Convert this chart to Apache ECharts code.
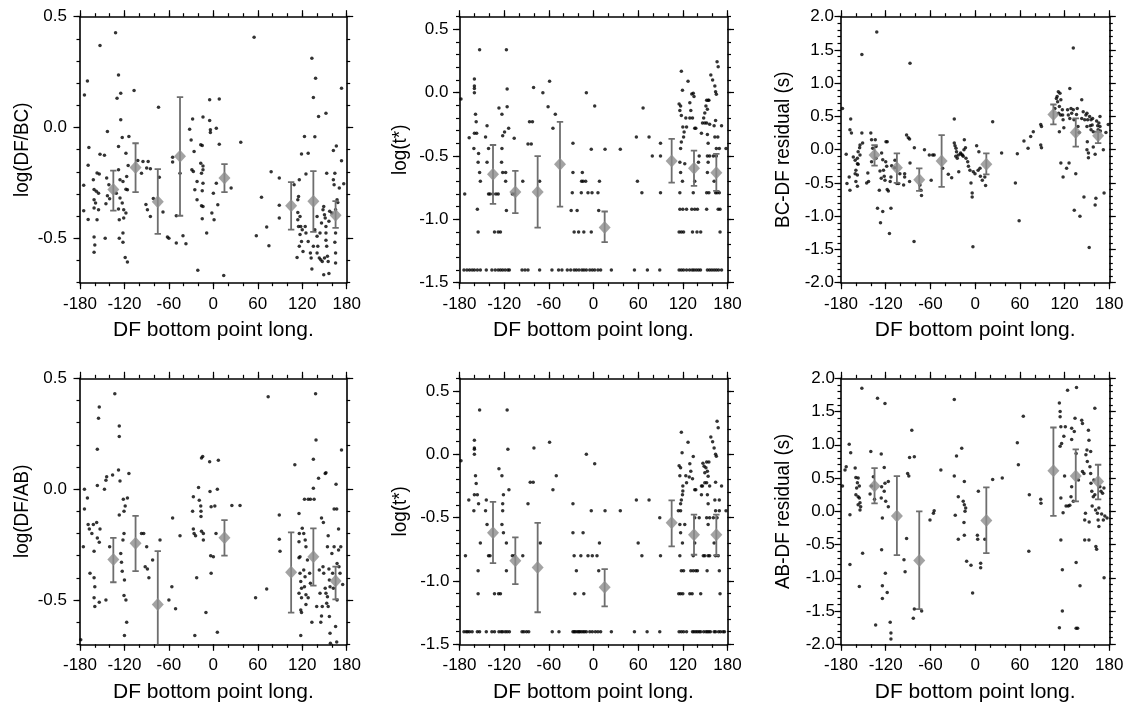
<!DOCTYPE html>
<html><head><meta charset="utf-8">
<script src="https://cdn.jsdelivr.net/npm/echarts@6/dist/echarts.min.js"></script>
<style>html,body{margin:0;padding:0;background:#fff}#c{width:1132px;height:706px}</style>
</head><body><div id="c"></div>
<script>
// ---------- tick labels ----------
const lonMajor = [-180,-120,-60,0,60,120,180];
const lonMinor = [-180,-160,-140,-120,-100,-80,-60,-40,-20,0,20,40,60,80,100,120,140,160,180];
const ratioMajor = [-0.5,0,0.5];
const ratioMinor = [-0.7,-0.6,-0.5,-0.4,-0.3,-0.2,-0.1,0,0.1,0.2,0.3,0.4,0.5];
const tstarMajor = [-1.5,-1,-0.5,0,0.5];
const tstarMinor = [-1.5,-1.4,-1.3,-1.2,-1.1,-1,-0.9,-0.8,-0.7,-0.6,-0.5,-0.4,-0.3,-0.2,-0.1,0,0.1,0.2,0.3,0.4,0.5,0.6];
const residMajor = [-2,-1.5,-1,-0.5,0,0.5,1,1.5,2];
const residMinor = [-2,-1.9,-1.8,-1.7,-1.6,-1.5,-1.4,-1.3,-1.2,-1.1,-1,-0.9,-0.8,-0.7,-0.6,-0.5,-0.4,-0.3,-0.2,-0.1,0,0.1,0.2,0.3,0.4,0.5,0.6,0.7,0.8,0.9,1,1.1,1.2,1.3,1.4,1.5,1.6,1.7,1.8,1.9,2];

const xTitle = 'DF bottom point long.';
const yTitles = ['log(DF/BC)','log(t*)','BC-DF residual (s)','log(DF/AB)','log(t*)','AB-DF residual (s)'];

// ---------- bin centres ----------
const binLonTop = [-135,-105,-75,-45,15,105,135,165];
const binLonBottom = [-135,-105,-75,15,105,135,165];

// ---------- panel 1 : log(DF/BC) ----------
const p1Dots = [[-174,0.147],[-170,0.21],[-168,-0.09],[-169,-0.17],[-175,-0.26],[-175,-0.375],[-169,-0.415],[-153,0.37],[-132,0.428],[-143,-0.018],[-153,-0.12],[-147,-0.125],[-157,-0.205],[-154,-0.21],[-162,-0.235],[-161,-0.28],[-158,-0.288],[-155,-0.296],[-161,-0.326],[-159,-0.34],[-161,-0.363],[-155,-0.371],[-157,-0.416],[-161,-0.494],[-160,-0.53],[-161,-0.563],[-146,-0.5],[-144,-0.228],[-141,-0.258],[-143,-0.308],[-140,-0.321],[-145,-0.344],[-131,-0.296],[-128,0.237],[-130,0.132],[-125,0.155],[-125,0.035],[-123,-0.045],[-128,-0.086],[-126,-0.236],[-122,-0.243],[-128,-0.19],[-126,-0.318],[-123,-0.34],[-128,-0.368],[-121,-0.371],[-127,-0.416],[-121,-0.408],[-118,-0.386],[-127,-0.5],[-122,-0.518],[-119,-0.586],[-116,-0.607],[-122,-0.476],[-118,-0.116],[-115,-0.171],[-114,-0.04],[-118,-0.278],[-117,-0.221],[-116,-0.281],[-107,0.167],[-102,-0.149],[-97,-0.206],[-95,-0.153],[-88,-0.153],[-90,-0.183],[-85,-0.186],[-91,-0.347],[-89,-0.371],[-85,-0.401],[-81,-0.32],[-74,0.092],[-73,-0.224],[-68,-0.381],[-62,-0.494],[-60,-0.5],[-50,-0.521],[-55,-0.156],[-55,-0.134],[-45,-0.206],[-50,-0.398],[-37,-0.524],[-32,-0.008],[-28,0.039],[-30,-0.056],[-29,-0.191],[-27,-0.198],[-26,-0.108],[-22,-0.243],[-25,-0.281],[-22,-0.326],[-21,-0.644],[-17,-0.078],[-15,-0.081],[-17,-0.161],[-14,-0.173],[-16,-0.206],[-14,-0.191],[-14,-0.251],[-15,-0.285],[-16,-0.353],[-14,-0.356],[-15,-0.411],[-9,-0.476],[-41,-0.488],[-14,0.047],[-5,0.125],[-5,0.032],[-4,-0.01],[-4,-0.022],[0,-0.296],[-2,-0.386],[1,-0.416],[4,-0.003],[8,0.129],[8,-0.075],[6,-0.348],[4,-0.251],[14,-0.667],[24,-0.273],[37,-0.066],[55,0.407],[58,-0.488],[65,-0.314],[72,-0.449],[75,-0.533],[78,-0.2],[89,-0.228],[89,-0.351],[89,-0.408],[109,-0.258],[116,-0.236],[115,-0.311],[114,-0.326],[114,-0.383],[114,-0.416],[117,-0.401],[115,-0.446],[119,-0.119],[123,-0.041],[125,-0.21],[128,-0.116],[118,-0.446],[120,-0.461],[117,-0.483],[119,-0.514],[121,-0.559],[113,-0.586],[116,-0.536],[124,-0.446],[125,-0.476],[128,-0.514],[131,-0.566],[133,-0.638],[132,-0.589],[133,0.312],[138,0.222],[135,0.135],[137,-0.042],[142,0.05],[152,0.065],[140,-0.401],[137,-0.461],[140,-0.491],[141,-0.536],[143,-0.589],[140,-0.566],[135,-0.536],[144,-0.476],[146,-0.431],[145,-0.596],[147,-0.604],[150,-0.589],[148,-0.371],[149,-0.356],[150,-0.393],[151,-0.408],[152,-0.446],[152,-0.476],[152,-0.509],[153,-0.536],[154,-0.581],[155,-0.604],[149,-0.664],[156,-0.659],[153,-0.206],[156,-0.423],[157,-0.378],[160,-0.386],[162,-0.236],[163,-0.258],[162,-0.104],[166,-0.083],[164,-0.206],[167,-0.326],[168,-0.338],[165,-0.371],[165,-0.476],[164,-0.518],[165,-0.566],[165,-0.611],[170,-0.273],[173,-0.15],[173,0.177],[176,-0.254]];
const p1Mean = [-0.28,-0.18,-0.335,-0.13,-0.228,-0.353,-0.332,-0.396];
const p1Lo = [-0.375,-0.291,-0.48,-0.398,-0.291,-0.461,-0.471,-0.453];
const p1Hi = [-0.194,-0.071,-0.188,0.137,-0.165,-0.246,-0.197,-0.332];

// ---------- panel 2 : log(t*) (BC) ----------
const p2Dots = [[-174,-1.4],[-170,-1.4],[-166.5,-1.4],[-163,-1.4],[-160,-1.4],[-156,-1.4],[-152,-1.4],[-144,-1.4],[-136.5,-1.4],[-132,-1.4],[-128,-1.4],[-125,-1.4],[-122,-1.4],[-118.6,-1.4],[-115,-1.4],[-113,-1.4],[-96,-1.4],[-92,-1.4],[-88,-1.4],[-72.4,-1.4],[-55.8,-1.4],[-46.9,-1.4],[-42.4,-1.4],[-35.2,-1.4],[-30.7,-1.4],[-26,-1.4],[-23,-1.4],[-19.5,-1.4],[-15.5,-1.4],[-12.8,-1.4],[-9.6,-1.4],[-5,-1.4],[-1.6,-1.4],[1.6,-1.4],[6,-1.4],[9.6,-1.4],[24,-1.4],[55,-1.4],[72.4,-1.4],[89,-1.4],[115,-1.4],[118,-1.4],[121,-1.4],[125,-1.4],[129,-1.4],[132.5,-1.4],[135,-1.4],[138,-1.4],[141,-1.4],[143.7,-1.4],[153,-1.4],[156,-1.4],[159,-1.4],[162,-1.4],[165,-1.4],[168,-1.4],[172,-1.4],
[-178,-0.05],[-173,-0.8],[-167,-0.355],[-160,0.108],[-160,0.053],[-160,0.034],[-160,0.0],[-158.5,-0.17],[-157.6,-0.23],[-160,-0.32],[-157,-0.32],[-160.7,-0.44],[-154.4,-0.48],[-155,-0.55],[-153,-0.63],[-152,-0.7],[-156,-0.92],[-155,-1.1],[-153,0.34],[-143,-0.26],[-145,-0.35],[-141,-0.44],[-143,-0.55],[-141,-0.8],[-139,-0.8],[-135,-0.8],[-131,-0.8],[-128,-0.8],[-133,-1.1],[-128,-1.1],[-125,-1.1],[-127,-0.12],[-123,-0.17],[-122,-0.34],[-123,-0.44],[-123.5,-0.55],[-122,-0.63],[-118,-0.63],[-117,0.34],[-116,-0.11],[-116,0.03],[-119.5,-0.31],[-114,-0.28],[-118,-0.7],[-117,-0.93],[-106.5,-0.36],[-109,-0.8],[-106,-0.8],[-95,-0.7],[-86,-0.23],[-82,-0.23],[-88,-0.405],[-83.6,-0.405],[-80.5,0.042],[-72.4,-0.7],[-68,0.0],[-61,-0.11],[-59,0.09],[-54.5,-0.28],[-51.3,-0.17],[-27.6,-0.4],[-27.6,-0.63],[-28.5,-0.79],[-30,-0.93],[-22,-0.93],[-26,-1.1],[-20,-1.1],[-13,-1.1],[-16,-0.7],[-14,-0.7],[-10.5,-0.7],[-15,-0.63],[-16.4,-0.79],[-9.6,0.0],[-7.4,-0.79],[-2,-0.79],[-3,-1.1],[-3,-0.447],[1.6,-0.105],[6,-0.79],[7,-0.93],[8,-0.7],[15.5,-0.447],[36,-0.447],[57.6,-0.35],[59,-0.7],[65,-0.79],[66.6,-0.12],[74.6,-0.35],[79,-0.5],[90,-0.4],[90,-0.5],[90,-0.79],
[115,-0.09],[116,-0.14],[117,-0.105],[118,0.17],[119.5,0.02],[118,-0.18],[120,-0.27],[121.7,-0.31],[121,-0.35],[118,-0.39],[117,-0.44],[116,-0.55],[117,-0.63],[119.5,-0.7],[116,-0.79],[116,-0.92],[120,-0.92],[125,-0.92],[115,-1.1],[118,-1.1],[121,-1.1],[122.6,-0.56],[124,-0.2],[125,-0.27],[127,0.09],[129.4,-0.08],[130.7,-0.14],[129.4,-0.2],[132,-0.01],[134,-0.005],[135,-0.03],[133,-0.2],[136,-0.28],[137.4,-0.28],[132,-0.92],[136,-0.92],[139.6,-0.92],[133,-1.1],[139,-1.1],[144,-1.1],[134,-0.79],[136,-0.7],[142,-0.5],[141,-0.55],[145,-0.32],[146.4,-0.24],[148,-0.2],[149.5,-0.16],[151,-0.105],[152,-0.06],[153,-0.13],[154,-0.06],[155,-0.06],[149.5,-0.24],[152,-0.24],[153,-0.33],[154,-0.4],[153,-0.5],[156,-0.5],[154,-0.55],[153,-0.63],[152,-0.79],[155,-0.79],[152,-0.92],[156,-0.25],[157.6,0.14],[160,0.1],[163,0.053],[164,0.008],[165,-0.013],[166,0.245],[167.5,0.205],[164,-0.22],[162,-0.26],[163,-0.35],[167,-0.35],[165,-0.44],[169,-0.44],[161,-0.5],[165,-0.5],[162,-0.7],[164,-0.79],[166,-0.79],[169,-0.79],[167.5,-0.92],[170,-0.92],[170,-1.1],[172,-0.26],[178,-0.44]];
const p2Mean = [-0.644,-0.783,-0.783,-0.565,-1.065,-0.539,-0.596,-0.631];
const p2Lo = [-0.878,-0.951,-1.065,-0.899,-1.18,-0.71,-0.736,-0.775];
const p2Hi = [-0.413,-0.617,-0.5,-0.231,-0.938,-0.365,-0.457,-0.483];

// ---------- panel 3 : BC-DF residual ----------
const p3Dots = [[-178,0.62],[-173,-0.07],[-172,-0.51],[-169,-0.41],[-168,-0.61],[-167,0.46],[-168,0.3],[-166,0.25],[-163.5,-0.11],[-161,-0.16],[-160,-0.31],[-161,-0.36],[-160,-0.48],[-158,-0.55],[-158,-0.21],[-157,-0.03],[-155,0.03],[-154.5,0.07],[-154.5,-0.08],[-152,0.25],[-152,1.43],[-151,0.1],[-158,-0.38],[-157,-0.22],[-158,-0.13],[-145.6,-0.5],[-144,-0.35],[-143,-0.48],[-140,0.25],[-139,0.15],[-137.5,0.02],[-139,-0.18],[-134,0.15],[-132,1.77],[-133,0.05],[-133,-0.13],[-131,-0.88],[-128.6,-0.61],[-127,-1.1],[-125.5,-0.05],[-124,-0.15],[-124,-0.93],[-127.7,-0.32],[-126,-0.43],[-123,-0.31],[-122,-0.4],[-121,-0.46],[-119.6,0.12],[-118,0.12],[-120,-0.18],[-118.7,-0.25],[-118,-0.6],[-116.5,-0.62],[-115,-1.26],[-114,-0.48],[-113,-0.41],[-113,-0.88],[-112,-0.24],[-108,-0.27],[-107.6,-0.16],[-105,-0.51],[-102.6,-0.51],[-101,-0.36],[-96,-0.53],[-94.6,-0.36],[-94.6,-0.41],[-92,0.22],[-89.7,0.18],[-88,0.16],[-87.4,1.3],[-88,-0.48],[-87.4,-0.2],[-82,-1.38],[-81.6,0.03],[-74,-0.53],[-72.7,-0.61],[-72,-0.69],[-68,0.0],[-61.5,-0.08],[-59,-0.46],[-57,-0.08],[-55,-0.08],[-43.6,-0.28],[-36,-0.37],[-31.5,-0.42],[-28,0.46],[-28,0.1],[-27,0.06],[-25.7,0.02],[-25,-0.03],[-26,-0.1],[-24,-0.13],[-22.6,-0.08],[-22,-0.33],[-19.5,-0.05],[-19,-0.07],[-17,-0.08],[-16,-0.1],[-15,0.0],[-14.5,0.15],[-13,0.03],[-12.3,-0.13],[-10,-0.18],[-9,-0.25],[-7,-0.31],[-5.6,-0.5],[-4,-0.65],[-4,-0.71],[-3,-1.46],[-2.5,-0.33],[-0.2,-0.36],[2,0.06],[5,-0.03],[4,-0.31],[6.5,-0.28],[7,-0.4],[9.6,-0.46],[13,-0.41],[14,-0.54],[23.5,0.42],[35.5,-0.05],[54,-0.5],[56.6,-0.06],[59,-1.07],[65.5,0.13],[71,0.02],[74.5,0.2],[78,0.27],[88,0.38],[89,0.35],[88,0.07],[89,0.03],
[107,0.62],[109,0.77],[110,0.8],[111.6,0.87],[110.7,0.72],[113,0.65],[113.8,0.85],[114.7,0.52],[112,0.55],[115,0.75],[117,0.6],[117.4,0.52],[118,0.45],[119,0.33],[113,0.27],[115,-0.2],[118,-0.41],[122.7,-0.28],[126,-0.2],[127,0.92],[124,0.6],[125,0.52],[127,0.47],[128.6,0.62],[129.5,0.55],[131.7,1.53],[131.7,0.6],[132.6,0.45],[133,-0.91],[135,-0.36],[137,0.62],[136,0.53],[138,0.35],[139.5,0.26],[140.6,-1.0],[143,0.75],[143,0.47],[145,0.57],[146,-0.71],[147,0.45],[148.6,0.52],[150,0.55],[150,0.35],[151,0.45],[150.5,0.12],[150,0.0],[152,-0.05],[152,-0.12],[153,-1.47],[153.6,0.5],[154.5,0.36],[155.5,0.45],[155.5,0.3],[157,0.37],[157.6,0.47],[158.5,0.27],[158.5,0.04],[161,-0.07],[161,-0.83],[162,-0.73],[163,0.43],[164.4,0.36],[165,0.3],[166,0.4],[167.5,0.5],[167.5,0.35],[168,0.28],[172,0.0],[173,-0.65],[175.5,0.26],[178.6,0.38]];
const p3Mean = [-0.08,-0.27,-0.45,-0.17,-0.22,0.53,0.26,0.21];
const p3Lo = [-0.24,-0.5,-0.62,-0.56,-0.37,0.38,0.045,0.1];
const p3Hi = [0.07,-0.055,-0.28,0.22,-0.055,0.68,0.47,0.27];

// ---------- panel 4 : log(DF/AB) ----------
const p4Dots = [[-179,-0.68],[-175.5,-0.26],[-174,0.0],[-174,-0.09],[-170,-0.04],[-169,-0.16],[-167.4,-0.18],[-166.5,-0.38],[-164,-0.2],[-162,-0.16],[-161,-0.4],[-161,-0.28],[-160,-0.44],[-161,-0.49],[-160,-0.53],[-157.5,-0.15],[-156.6,0.18],[-156.6,0.016],[-155,0.32],[-154,0.37],[-156.6,-0.22],[-154,-0.24],[-153,-0.18],[-154,-0.51],[-147,0.0],[-145,0.04],[-144,0.056],[-145,-0.5],[-140,-0.26],[-136,0.064],[-133,0.43],[-128,0.086],[-127,0.285],[-127,0.237],[-126,0.037],[-127,-0.117],[-125,-0.29],[-124,-0.33],[-123,-0.37],[-122,-0.23],[-121.5,-0.046],[-120.6,-0.1],[-119,-0.076],[-120.6,-0.2],[-120,-0.41],[-120.6,-0.48],[-118,-0.5],[-120,-0.66],[-117,-0.6],[-116,-0.04],[-114,0.07],[-97,-0.2],[-94,-0.2],[-90,-0.26],[-92,-0.35],[-89,-0.36],[-87,-0.4],[-82,-0.32],[-72,-0.23],[-60,-0.5],[-56,-0.44],[-55,-0.13],[-51,-0.54],[-45,-0.21],[-28,-0.1],[-27,-0.034],[-27,-0.18],[-26,-0.2],[-24,-0.21],[-25,-0.66],[-22.5,-0.4],[-20,0.007],[-19,-0.05],[-17,-0.076],[-16.7,-0.1],[-16,0.14],[-14.4,0.147],[-16.7,-0.124],[-16,-0.19],[-13.5,-0.2],[-13.5,-0.23],[-10,-0.557],[-5,0.124],[-4.5,-0.011],[-3,-0.08],[-3,-0.38],[-3.6,-0.3],[0,-0.305],[2,-0.076],[3.6,-0.2],[5.4,0.0],[6.75,0.13],[5.4,-0.646],[25,-0.074],[36,-0.074],[57,-0.49],[72,-0.45],[74,0.417],[89,-0.117],[89,-0.226],[90,-0.28],
[110,0.11],[115.6,-0.11],[116,-0.2],[115.6,-0.237],[117,-0.305],[115.6,-0.31],[117,-0.38],[118,-0.417],[119,-0.447],[115.6,-0.47],[119,-0.49],[118,-0.545],[119,-0.557],[118,-0.66],[120,-0.177],[122,-0.2],[124,-0.23],[125,-0.26],[122,-0.365],[123.8,-0.395],[123,-0.44],[125,-0.477],[125,-0.52],[123,-0.046],[128,-0.046],[131,-0.046],[136,-0.046],[133,-0.6],[128,-0.49],[130,-0.38],[127,-0.32],[131,-0.425],[135,0.004],[135,0.135],[138,0.43],[138.6,0.222],[139.5,-0.53],[142,0.049],[143,-0.365],[144,-0.47],[145,-0.6],[146,-0.572],[147,-0.53],[146,-0.13],[148.5,-0.15],[151,0.071],[152,0.074],[148,-0.35],[149,-0.38],[151,-0.447],[152,-0.47],[153,-0.515],[154,-0.26],[155,-0.21],[156,-0.36],[156.6,-0.41],[157.5,-0.44],[154,-0.485],[155,-0.53],[156.6,-0.575],[157.5,-0.65],[158,-0.695],[160,-0.29],[161,-0.38],[162,-0.447],[163,-0.09],[163,-0.26],[165.6,0.022],[166.5,-0.09],[165,-0.62],[167,-0.335],[169,-0.18],[169,-0.275],[169.6,-0.35],[167,-0.5],[166.5,-0.69],[171,-0.38],[172,-0.26],[173,0.177],[174.6,-0.43]];
const p4Mean = [-0.317,-0.244,-0.52,-0.219,-0.375,-0.305,-0.414];
const p4Lo = [-0.42,-0.37,-0.78,-0.3,-0.557,-0.435,-0.497];
const p4Hi = [-0.22,-0.121,-0.28,-0.14,-0.195,-0.177,-0.35];

// ---------- panel 5 : log(t*) (AB) ----------
const p5Dots = [[-174,-1.4],[-171,-1.4],[-169,-1.4],[-166.5,-1.4],[-163,-1.4],[-156,-1.4],[-153,-1.4],[-144,-1.4],[-136.5,-1.4],[-133,-1.4],[-127,-1.4],[-124,-1.4],[-122,-1.4],[-118.6,-1.4],[-116,-1.4],[-113,-1.4],[-96,-1.4],[-93.5,-1.4],[-90,-1.4],[-87,-1.4],[-55.4,-1.4],[-46.4,-1.4],[-27.6,-1.4],[-26,-1.4],[-24.4,-1.4],[-22,-1.4],[-20,-1.4],[-18.6,-1.4],[-16.4,-1.4],[-14,-1.4],[-12,-1.4],[-9.6,-1.4],[-5,-1.4],[-1.6,-1.4],[2.5,-1.4],[6,-1.4],[9.6,-1.4],[24,-1.4],[55,-1.4],[72,-1.4],[89,-1.4],[115,-1.4],[118,-1.4],[121,-1.4],[125,-1.4],[133,-1.4],[135,-1.4],[137.4,-1.4],[139.6,-1.4],[142,-1.4],[144,-1.4],[148,-1.4],[151,-1.4],[153,-1.4],[155,-1.4],[157,-1.4],[162,-1.4],[164,-1.4],[168,-1.4],[170.6,-1.4],[174,-1.4],[176,-1.4],
[-178,-0.05],[-172,-0.8],[-167.5,-0.36],[-160,0.11],[-160,0.05],[-160,0.04],[-160,0.0],[-158.5,-0.17],[-157.6,-0.23],[-160,-0.32],[-156,-0.32],[-160.7,-0.445],[-154.4,-0.39],[-153,0.35],[-152,-0.7],[-155,-0.92],[-155,-1.1],[-144,-0.36],[-145,-0.445],[-143,-0.555],[-141,-0.8],[-139,-0.8],[-133,-1.1],[-127.5,-1.1],[-125,-1.1],[-127,-0.115],[-123,-0.17],[-121,-0.32],[-122,-0.39],[-122,-0.445],[-123,-0.555],[-121,-0.62],[-116,0.35],[-115,0.04],[-113.6,-0.28],[-117,-0.7],[-117,-0.92],[-109,-0.8],[-106,-0.8],[-95,-0.8],[-88,-0.39],[-85,-0.22],[-81,-0.22],[-80,0.05],[-71.5,-0.7],[-59,0.096],[-54.5,-0.28],[-50,-0.17],[-27.6,-0.39],[-27.6,-0.62],[-26,-0.8],[-23,-0.92],[-25,-1.1],[-14,-0.62],[-17,-0.8],[-13,-1.1],[-9.6,0.0],[-7.4,-0.8],[-3,-0.445],[-1.6,-0.8],[1.6,-0.075],[4.7,-0.8],[7,-0.92],[8,-0.7],[15.5,-0.445],[36,-0.445],[57.6,-0.36],[60,-0.7],[65,-0.8],[74.6,-0.36],[90,-0.8],[89,-0.5],
[115,-0.09],[117,-0.107],[118,0.175],[119,0.013],[116,-0.17],[120,-0.25],[120,-0.29],[119.5,-0.32],[118,-0.36],[117,-0.39],[117,-0.445],[114,-0.445],[116,-0.555],[117,-0.62],[119.5,-0.7],[116,-0.8],[118,-0.92],[121,-0.92],[114.5,-1.1],[117,-1.1],[120,-1.1],[122.6,-0.555],[124,-0.17],[125,-0.225],[127,0.096],[129.4,-0.075],[130.7,-0.133],[128.6,-0.18],[134,-0.018],[133,-0.194],[136,-0.28],[137.4,-0.28],[130.7,-0.92],[134,-0.92],[137.4,-0.92],[139.6,-0.92],[129.4,-1.1],[132.5,-1.1],[144,-1.1],[134,-0.8],[136,-0.7],[136,-0.5],[142,-0.5],[145,-0.32],[145,-0.25],[146.4,-0.25],[147,-0.07],[148.6,-0.095],[149.5,-0.146],[151,-0.107],[152,-0.06],[153,-0.133],[154,-0.173],[155,-0.06],[149.5,-0.225],[152,-0.225],[153,-0.32],[154,-0.39],[152,-0.5],[156,-0.5],[154,-0.555],[147.5,-0.8],[149.5,-0.8],[154,-0.8],[156,-0.8],[152.6,-0.92],[156,-0.25],[157.6,0.136],[160,0.1],[162,0.05],[164,0.0],[165,-0.015],[166,0.26],[167.5,0.21],[164,-0.22],[163,-0.36],[169,-0.36],[164,-0.445],[169,-0.445],[161,-0.5],[166,-0.5],[162,-0.7],[164,-0.8],[167.5,-0.8],[169,-0.92],[170,-1.1],[172,-0.25],[178,-0.445]];
const p5Mean = [-0.62,-0.84,-0.893,-1.05,-0.54,-0.635,-0.635];
const p5Lo = [-0.859,-1.025,-1.247,-1.2,-0.727,-0.793,-0.798];
const p5Hi = [-0.376,-0.656,-0.542,-0.906,-0.363,-0.476,-0.476];

// ---------- panel 6 : AB-DF residual ----------
const p6Dots = [[-178,0.38],[-174.6,0.62],[-173,0.67],[-169,1.01],[-167,0.88],[-168,-0.05],[-168,-0.8],[-161,0.65],[-160,0.51],[-159,0.35],[-160,0.25],[-158,0.43],[-157,0.5],[-157,0.22],[-155.4,0.38],[-155.4,0.2],[-157,0.1],[-154.5,0.13],[-153.6,0.07],[-154.5,0.02],[-155.4,-1.13],[-152,1.85],[-151,-0.63],[-140,0.9],[-141,0.26],[-139,0.38],[-136.6,0.52],[-135,0.18],[-133.5,-1.71],[-131,1.7],[-126,0.86],[-125.5,0.37],[-126,0.2],[-125.5,-0.58],[-124.5,-0.1],[-124.5,-1.12],[-124.5,-1.31],[-122,0.66],[-121,1.62],[-121,0.42],[-122,0.3],[-120.5,-0.93],[-120,0.15],[-118,-1.22],[-116.5,0.07],[-116.5,0.45],[-114,-1.67],[-113,-1.83],[-113,-1.92],[-95.5,-0.73],[-94,-0.91],[-92,-0.41],[-90.6,0.57],[-89,0.53],[-88,0.81],[-85,1.22],[-81.6,0.82],[-81.6,-1.47],[-83,-1.61],[-71.8,-1.5],[-60.6,-0.13],[-56,-0.03],[-55,0.01],[-46,0.62],[-28,0.53],[-26.7,-0.06],[-28,1.68],[-25,0.83],[-22.6,0.22],[-22.6,-0.42],[-18,0.95],[-16,0.15],[-14.5,0.1],[-14.5,-0.36],[-15,-0.17],[-13.6,0.0],[-12.7,0.05],[-14.5,0.45],[-11.4,-0.75],[-5.6,-0.81],[-3.4,-1.23],[3,-0.36],[3.4,-0.42],[4.3,0.3],[7.4,-0.78],[7.4,-0.85],[13,-0.42],[23.5,0.48],[36.4,0.5],[56.6,1.03],[58,0.7],[64.6,1.43],[72.7,0.25],[72,-0.6],[88,0.18],[88.3,0.12],
[113,1.63],[114,1.5],[114,1.42],[115,1.27],[114,0.98],[116,1.02],[115,0.2],[115,-0.43],[113,-1.75],[117,-0.88],[117,-1.5],[118,-0.02],[121,1.27],[119,1.13],[120,0.53],[122,0.08],[124,1.82],[125,0.08],[127,0.09],[128.6,0.22],[129.5,0.37],[129.5,1.25],[129.5,1.08],[131.7,0.15],[134,1.4],[133,1.2],[135.5,0.87],[136,1.86],[135.5,-0.77],[135.5,-1.76],[137.5,-1.76],[138.6,0.47],[140.7,-1.12],[143,1.37],[144,1.32],[144,0.6],[146,0.57],[147,-0.43],[148,-0.03],[147,-0.13],[148.6,0.85],[150,0.92],[150.5,0.75],[152,1.22],[152.7,1.07],[152.7,-0.43],[153,-0.16],[154,0.67],[155,0.57],[155,0.9],[155.4,0.42],[156.5,0.3],[157,0.08],[158.5,0.22],[159.3,0.47],[160.6,1.55],[160.6,0.25],[161.6,0.02],[162,-0.53],[163,-0.57],[164,-0.03],[165,-0.13],[166,0.05],[166,-0.23],[167.4,0.37],[168.8,0.3],[169.7,-0.04],[171,0.27],[172,-0.13],[174,-0.07],[177,-0.1],[173,-1.0],[172.8,0.35]];
const p6Mean = [0.38,-0.07,-0.74,-0.14,0.61,0.53,0.45];
const p6Lo = [0.12,-0.66,-1.47,-0.63,-0.07,0.15,0.18];
const p6Hi = [0.65,0.53,0.0,0.36,1.26,0.93,0.7];

// ---------- layout / style ----------
const FONT = 'Liberation Sans, Arial, Helvetica, sans-serif';
const TITLE_SCALE = 0.9;
const panels = [
  {left:80,   top:16.7,  width:266.7, height:266, yMin:-0.7, yMax:0.5, yMaj:ratioMajor, yMin_:ratioMinor, lblMargin:13, titleX:22,  dots:p1Dots, bins:binLonTop, mean:p1Mean, lo:p1Lo, hi:p1Hi},
  {left:459.5,top:16.7,  width:268,   height:266, yMin:-1.5, yMax:0.6, yMaj:tstarMajor, yMin_:tstarMinor, lblMargin:11, titleX:400, dots:p2Dots, bins:binLonTop, mean:p2Mean, lo:p2Lo, hi:p2Hi},
  {left:841,  top:16.7,  width:268.3, height:266, yMin:-2,   yMax:2,   yMaj:residMajor, yMin_:residMinor, lblMargin:7,  titleX:783, dots:p3Dots, bins:binLonTop, mean:p3Mean, lo:p3Lo, hi:p3Hi},
  {left:80,   top:378.3, width:266.7, height:266, yMin:-0.7, yMax:0.5, yMaj:ratioMajor, yMin_:ratioMinor, lblMargin:13, titleX:22,  dots:p4Dots, bins:binLonBottom, mean:p4Mean, lo:p4Lo, hi:p4Hi},
  {left:459.5,top:378.3, width:268,   height:266, yMin:-1.5, yMax:0.6, yMaj:tstarMajor, yMin_:tstarMinor, lblMargin:10, titleX:400, dots:p5Dots, bins:binLonBottom, mean:p5Mean, lo:p5Lo, hi:p5Hi},
  {left:841,  top:378.3, width:268.3, height:266, yMin:-2,   yMax:2,   yMaj:residMajor, yMin_:residMinor, lblMargin:6,  titleX:783, dots:p6Dots, bins:binLonBottom, mean:p6Mean, lo:p6Lo, hi:p6Hi}
];

const grids = [], xAxes = [], yAxes = [], series = [], graphics = [];
const tickStyle = {color:'#000', width:1.2};
const lineStyle = {color:'#000', width:1.6};

panels.forEach((p, g) => {
  grids.push({left:p.left, top:p.top, width:p.width, height:p.height, containLabel:false});
  ['bottom','top'].forEach(pos => {
    const labels = pos === 'bottom';
    xAxes.push({
      type:'value', gridIndex:g, position:pos, min:-180, max:180,
      axisLine:{show:true, onZero:false, lineStyle:lineStyle},
      axisTick:{show:true, customValues:lonMajor, length:6.5, lineStyle:tickStyle},
      axisLabel:{show:labels, customValues:lonMajor, margin:13, fontSize:17, color:'#000', fontFamily:FONT},
      splitLine:{show:false},
      name: labels ? xTitle : '', nameLocation:'middle', nameGap:37,
      nameTextStyle:{fontSize:21, color:'#000', fontFamily:FONT}
    });
    xAxes.push({
      type:'value', gridIndex:g, position:pos, min:-180, max:180,
      axisLine:{show:false, onZero:false},
      axisTick:{show:true, customValues:lonMinor, length:3.5, lineStyle:tickStyle},
      axisLabel:{show:false}, splitLine:{show:false}
    });
  });
  ['left','right'].forEach(pos => {
    const labels = pos === 'left';
    yAxes.push({
      type:'value', gridIndex:g, position:pos, min:p.yMin, max:p.yMax,
      axisLine:{show:true, onZero:false, lineStyle:lineStyle},
      axisTick:{show:true, customValues:p.yMaj, length:6.5, lineStyle:tickStyle},
      axisLabel:{show:labels, customValues:p.yMaj, margin:p.lblMargin, fontSize:17, color:'#000', fontFamily:FONT,
                 formatter: v => Number(v).toFixed(1)},
      splitLine:{show:false}
    });
    yAxes.push({
      type:'value', gridIndex:g, position:pos, min:p.yMin, max:p.yMax,
      axisLine:{show:false, onZero:false},
      axisTick:{show:true, customValues:p.yMin_, length:3.5, lineStyle:tickStyle},
      axisLabel:{show:false}, splitLine:{show:false}
    });
  });

  graphics.push({
    type:'text', x:p.titleX, y:p.top + p.height/2, rotation:Math.PI/2, scaleX:TITLE_SCALE, scaleY:1,
    silent:true,
    style:{text:yTitles[g], fontSize:21, fontFamily:FONT, fill:'#000', align:'center', verticalAlign:'middle'}
  });

  const xi = 4*g, yi = 4*g;
  series.push({
    type:'scatter', xAxisIndex:xi, yAxisIndex:yi, data:p.dots,
    symbol:'circle', symbolSize:3.5, itemStyle:{color:'#000'}, silent:true, z:2
  });
  const barData = p.bins.map((b, i) => [b, p.lo[i], p.hi[i]]);
  series.push({
    type:'custom', xAxisIndex:xi, yAxisIndex:yi, data:barData, clip:true, silent:true, z:3,
    encode:{x:0, y:[1,2]},
    renderItem:(params, api) => {
      const x = api.value(0);
      const a = api.coord([x, api.value(1)]);
      const b = api.coord([x, api.value(2)]);
      const cap = 3.2;
      const st = {stroke:'#6e6e6e', lineWidth:1.8};
      return {type:'group', children:[
        {type:'line', shape:{x1:a[0], y1:a[1], x2:b[0], y2:b[1]}, style:st},
        {type:'line', shape:{x1:a[0]-cap, y1:a[1], x2:a[0]+cap, y2:a[1]}, style:st},
        {type:'line', shape:{x1:b[0]-cap, y1:b[1], x2:b[0]+cap, y2:b[1]}, style:st}
      ]};
    }
  });
  series.push({
    type:'scatter', xAxisIndex:xi, yAxisIndex:yi,
    data:p.bins.map((b, i) => [b, p.mean[i]]),
    symbol:'diamond', symbolSize:[12,13], itemStyle:{color:'#8c8c8c'}, silent:true, z:4
  });
});

const chart = echarts.init(document.getElementById('c'), null, {renderer:'canvas', width:1132, height:706});
chart.setOption({
  backgroundColor:'#ffffff',
  animation:false,
  textStyle:{fontFamily:FONT},
  grid:grids, xAxis:xAxes, yAxis:yAxes, series:series, graphic:graphics
});
</script></body></html>
